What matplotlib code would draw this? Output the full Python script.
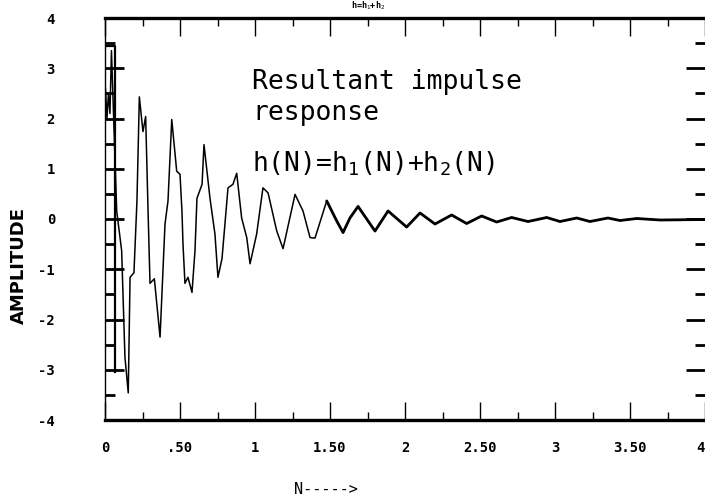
#!/usr/bin/env python3
"""
Resultant impulse response h(N) = h1(N) + h2(N), redrawn from a scanned plot.
"""

import numpy as np
import matplotlib
matplotlib.use("Agg")
import matplotlib.pyplot as plt
from matplotlib.ticker import MultipleLocator, FixedLocator, FixedFormatter


# ============================================================================
# Data
# ============================================================================

n_values = [0.0, 0.003, 0.013, 0.023, 0.033, 0.043, 0.078, 0.111, 0.133, 0.155,
            0.167, 0.193, 0.213, 0.229, 0.253, 0.271, 0.287, 0.300, 0.329, 0.367,
            0.400, 0.420, 0.445, 0.478, 0.500, 0.513, 0.520, 0.533, 0.553, 0.580,
            0.600, 0.613, 0.647, 0.660, 0.700, 0.733, 0.753, 0.780, 0.820, 0.853,
            0.878, 0.911, 0.945, 0.967, 1.011, 1.053, 1.087, 1.145, 1.187, 1.267,
            1.320, 1.367, 1.400, 1.478, 1.545, 1.587, 1.633, 1.687, 1.800, 1.887,
            2.011, 2.100, 2.200, 2.311, 2.411, 2.511, 2.611, 2.711, 2.820, 2.945,
            3.033, 3.145, 3.233, 3.353, 3.433, 3.545, 3.700, 4.000]

amplitude = [2.00, 2.60, 2.00, 2.50, 2.10, 3.35, 0.16, -0.63, -2.75, -3.46,
             -1.16, -1.07, 0.36, 2.43, 1.74, 2.04, 0.16, -1.28, -1.19, -2.35,
             -0.10, 0.36, 1.98, 0.95, 0.89, 0.16, -0.50, -1.28, -1.16, -1.46,
             -0.63, 0.41, 0.69, 1.48, 0.41, -0.30, -1.16, -0.79, 0.62, 0.69,
             0.91, 0.02, -0.37, -0.89, -0.30, 0.62, 0.52, -0.24, -0.59, 0.49,
             0.16, -0.37, -0.38, 0.36, -0.04, -0.27, 0.02, 0.25, -0.24, 0.16,
             -0.16, 0.12, -0.10, 0.08, -0.09, 0.06, -0.06, 0.03, -0.05, 0.03,
             -0.05, 0.02, -0.05, 0.02, -0.03, 0.01, -0.02, -0.01]

# the little frame drawn at the left edge of the original plot
frame_x = [0.0, 0.065, 0.065]
frame_y = [3.45, 3.45, -3.05]

x_ticks = [0, 0.5, 1, 1.5, 2, 2.5, 3, 3.5, 4]
x_tick_labels = ["0", ".50", "1", "1.50", "2", "2.50", "3", "3.50", "4"]
y_ticks = [4, 3, 2, 1, 0, -1, -2, -3, -4]
y_tick_labels = ["4", "3", "2", "1", "0", "-1", "-2", "-3", "-4"]


# ============================================================================
# Plot
# ============================================================================

plt.rcParams["mathtext.fontset"] = "custom"
plt.rcParams["mathtext.rm"] = "DejaVu Sans Mono"
plt.rcParams["mathtext.it"] = "DejaVu Sans Mono"

fig = plt.figure(figsize=(7.05, 4.99), dpi=100)
ax = fig.add_axes([105 / 705, 79 / 499, 600 / 705, 402 / 499])

n = np.array(n_values)
a = np.array(amplitude)
ax.plot(n, a, color="black", lw=1.1)
# the trace gets heavier towards the tail in the scan
tail = n >= 1.45
ax.plot(n[tail], a[tail], color="black", lw=2.0, solid_capstyle="round")
ax.plot(frame_x, frame_y, color="black", lw=1.6)

ax.set_xlim(0, 4)
ax.set_ylim(-4, 4)

# spines
ax.spines["top"].set_linewidth(2.4)
ax.spines["bottom"].set_linewidth(2.4)
ax.spines["left"].set_linewidth(1.0)
ax.spines["right"].set_visible(False)

# ticks
ax.xaxis.set_major_locator(FixedLocator(x_ticks))
ax.xaxis.set_major_formatter(FixedFormatter(x_tick_labels))
ax.xaxis.set_minor_locator(MultipleLocator(0.25))
ax.yaxis.set_major_locator(FixedLocator(y_ticks))
ax.yaxis.set_major_formatter(FixedFormatter(y_tick_labels))
ax.yaxis.set_minor_locator(MultipleLocator(0.5))

ax.tick_params(axis="x", which="both", direction="in", top=True, bottom=True,
               width=1.0, pad=15)
ax.tick_params(axis="x", which="major", length=13)
ax.tick_params(axis="x", which="minor", length=6)
ax.tick_params(axis="y", which="both", direction="in", left=True, right=True,
               width=2.0, pad=36)
ax.tick_params(axis="y", which="major", length=14)
ax.tick_params(axis="y", which="minor", length=7)

fig.canvas.draw()
for lbl in ax.get_xticklabels() + ax.get_yticklabels():
    lbl.set_fontfamily("DejaVu Sans Mono")
    lbl.set_fontweight("bold")
    lbl.set_fontsize(10)
# last x label sits on the figure edge, keep it inside
ax.get_xticklabels()[-1].set_horizontalalignment("right")

# annotation inside the plot
note_font = dict(family="DejaVu Sans Mono", fontsize=19, va="baseline")
ax.text(0.98, 2.59, "Resultant impulse", **note_font)
ax.text(0.98, 1.98, "response", **note_font)
ax.text(0.98, 0.95, r"h(N)=h$_1$(N)+h$_2$(N)", **note_font)

# axis labels and tiny title
fig.text(18.5 / 705, 1 - 265 / 499, "AMPLITUDE", rotation=90, ha="center",
         va="center", family="DejaVu Sans", fontsize=13, weight="bold")
fig.text(326 / 705, 1 - 490 / 499, "N----->", ha="center", va="center",
         family="DejaVu Sans Mono", fontsize=11)
fig.text(368 / 705, 1 - 6 / 499, r"h=h$_1$+h$_2$", ha="center", va="center",
         family="DejaVu Sans Mono", fontsize=6, weight="bold")

plt.savefig("out.png", dpi=100)
